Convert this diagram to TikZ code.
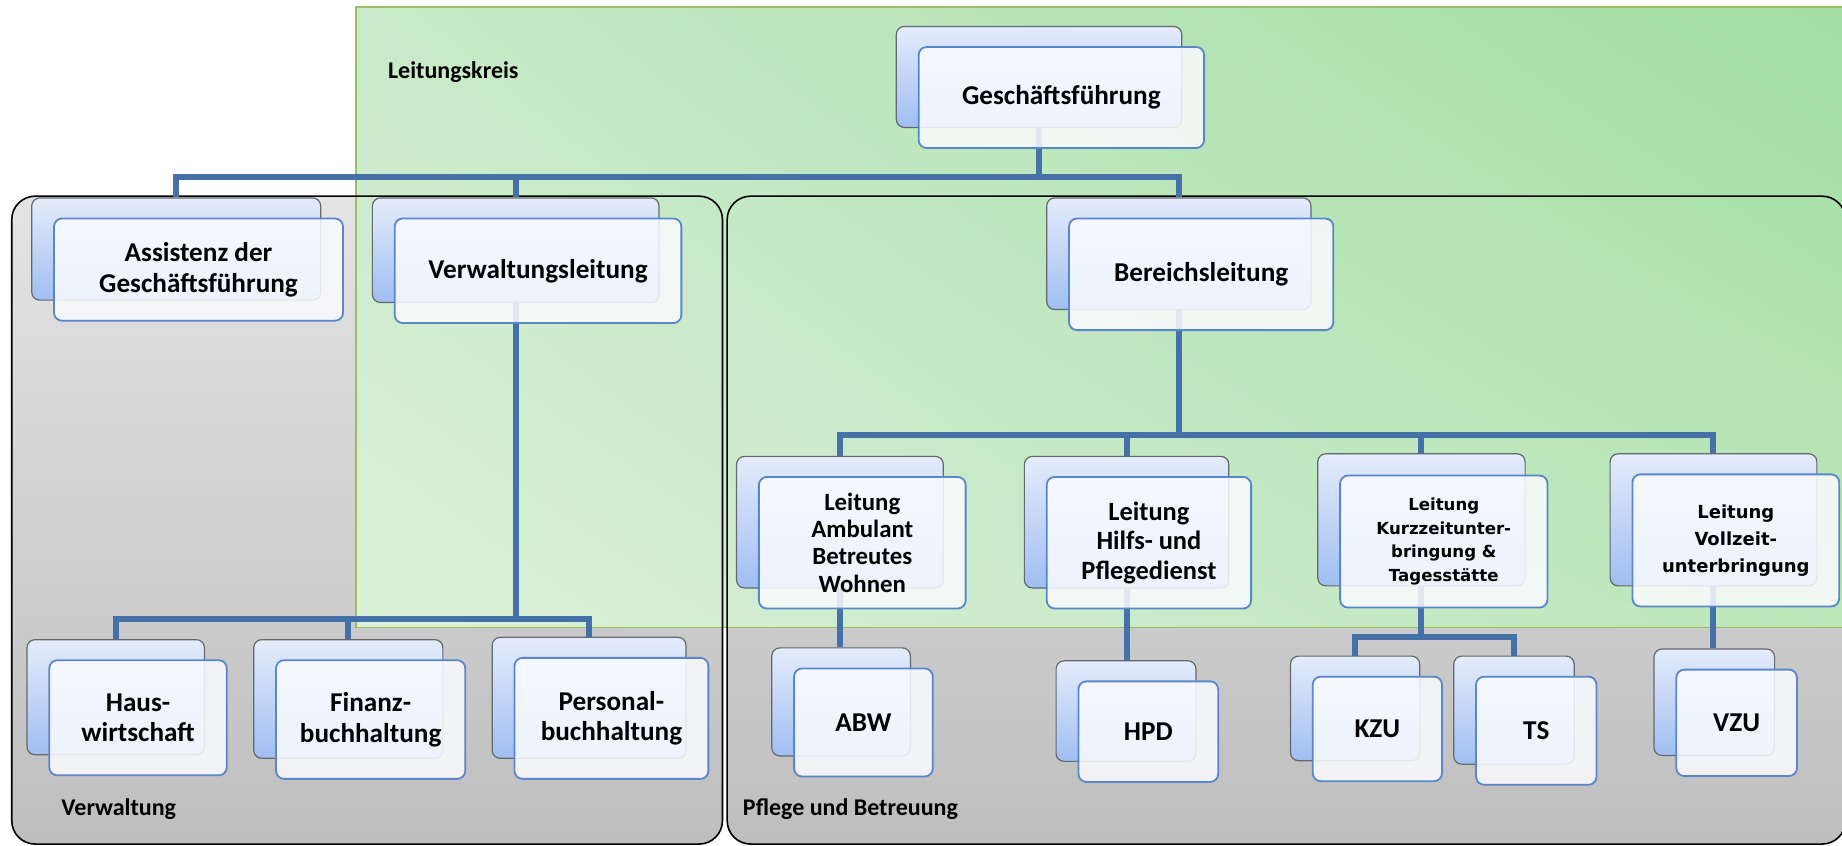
\documentclass[tikz,border=0pt]{standalone}
\usepackage{fontspec}
\usetikzlibrary{shadings}
\setmainfont{Carlito}
\newfontfamily\dvfont{DejaVu Sans}
\newcommand\upx{0.5874pt}
\definecolor{linec}{RGB}{70,112,168}
\definecolor{backtop}{RGB}{228,236,251}
\definecolor{backbot}{RGB}{160,190,242}
\definecolor{backedge}{RGB}{100,104,112}
\definecolor{frontedge}{RGB}{88,135,205}
\definecolor{frontfill}{RGB}{250,251,254}
\definecolor{greytop}{RGB}{228,228,228}
\definecolor{greybot}{RGB}{190,190,190}
\definecolor{gUL}{RGB}{200,234,200}
\definecolor{gUR}{RGB}{162,222,162}
\definecolor{gLL}{RGB}{218,240,218}
\definecolor{gLR}{RGB}{188,230,186}
\definecolor{gedge}{RGB}{155,190,100}
\begin{document}
\begin{tikzpicture}[x=0.5874pt,y=-0.5874pt,
  conn/.style={draw=linec,line width=3pt},
  backbox/.style={draw=backedge,line width=0.6pt,rounded corners=4pt,top color=backtop,bottom color=backbot,inner sep=0pt},
  frontbox/.style={draw=frontedge,line width=0.9pt,rounded corners=4pt,fill=frontfill,fill opacity=0.86,text opacity=1,inner sep=0pt,align=center},
  bigtxt/.style={font=\fontsize{13.6}{15.3}\selectfont\bfseries},
  midtxt/.style={font=\fontsize{12.4}{13.6}\selectfont\bfseries},
  dvtxt/.style={font=\dvfont\fontsize{8.3}{11.9}\selectfont\bfseries},
  dvtxtb/.style={font=\dvfont\fontsize{9}{13.4}\selectfont\bfseries},
  grouplbl/.style={font=\fontsize{12}{14}\selectfont\bfseries,anchor=west,inner sep=0pt},
  greyfill/.style={top color=greytop,bottom color=greybot,rounded corners=11.7pt},
  greyline/.style={draw=black,line width=0.8pt,rounded corners=11.7pt}
]
\useasboundingbox (0,0) rectangle (1568,720);
% grey group boxes
\path[greyfill] (10,167) rectangle (615,718.5);
\path[greyfill] (619,167) rectangle (1571,718.5);
% Leitungskreis
\shade[upper left=gUL,upper right=gUR,lower left=gLL,lower right=gLR] (303,6) rectangle (1575,534);
\draw[gedge,line width=0.7pt] (303,6) rectangle (1575,534);
\draw[greyline] (10,167) rectangle (615,718.5);
\draw[greyline] (619,167) rectangle (1571,718.5);
% group labels
\node[grouplbl] (lk) at (330,61) {Leitungskreis};
\node[grouplbl] (lverw) at (52,689) {Verwaltung};
\node[grouplbl] (lpfl) at (632,689) {Pflege und Betreuung};
% back boxes
\node[backbox,minimum width=243*\upx,minimum height=86*\upx] (gfb) at (884.5,65.5) {};
\node[backbox,minimum width=246*\upx,minimum height=87*\upx] (asb) at (150,212) {};
\node[backbox,minimum width=244*\upx,minimum height=89*\upx] (vlb) at (439,213) {};
\node[backbox,minimum width=225*\upx,minimum height=95*\upx] (blb) at (1003.5,216) {};
\node[backbox,minimum width=151*\upx,minimum height=98*\upx] (hwb) at (98.5,593.5) {};
\node[backbox,minimum width=161*\upx,minimum height=101*\upx] (fbb) at (296.5,595) {};
\node[backbox,minimum width=165*\upx,minimum height=103*\upx] (pbb) at (501.5,594) {};
\node[backbox,minimum width=176*\upx,minimum height=112*\upx] (lab) at (715,444.5) {};
\node[backbox,minimum width=174*\upx,minimum height=112*\upx] (lhb) at (959,444.5) {};
\node[backbox,minimum width=176.5*\upx,minimum height=112.4*\upx] (lkb) at (1210,442.5) {};
\node[backbox,minimum width=176*\upx,minimum height=112.4*\upx] (lvb) at (1458.6,442.5) {};
\node[backbox,minimum width=118*\upx,minimum height=92*\upx] (abwb) at (716,597.5) {};
\node[backbox,minimum width=119*\upx,minimum height=85.6*\upx] (hpdb) at (958.5,605.3) {};
\node[backbox,minimum width=110*\upx,minimum height=89*\upx] (kzub) at (1153.5,603) {};
\node[backbox,minimum width=102.5*\upx,minimum height=92*\upx] (tsb) at (1288.75,604.5) {};
\node[backbox,minimum width=102.7*\upx,minimum height=90.6*\upx] (vzub) at (1459.3,597.8) {};
% connectors
\coordinate (bus1) at (0,151);
\coordinate (bus2) at (0,527);
\coordinate (bus3) at (0,370);
\coordinate (bus4) at (0,542);
\draw[conn] (gfb.south) -- (gfb.south |- bus1);
\draw[conn] (asb.north) -- (asb.north |- bus1) -- (blb.north |- bus1) -- (blb.north);
\draw[conn] (vlb.north) -- (vlb.north |- bus1);
\draw[conn] (vlb.south) -- (vlb.south |- bus2);
\draw[conn] (hwb.north) -- (hwb.north |- bus2) -- (pbb.north |- bus2) -- (pbb.north);
\draw[conn] (fbb.north) -- (fbb.north |- bus2);
\draw[conn] (blb.south) -- (blb.south |- bus3);
\draw[conn] (lab.north) -- (lab.north |- bus3) -- (lvb.north |- bus3) -- (lvb.north);
\draw[conn] (lhb.north) -- (lhb.north |- bus3);
\draw[conn] (lkb.north) -- (lkb.north |- bus3);
\draw[conn] (lab.south) -- (lab.south |- abwb.north);
\draw[conn] (lhb.south) -- (lhb.south |- hpdb.north);
\draw[conn] (lkb.south) -- (lkb.south |- bus4);
\draw[conn] (kzub.north) -- (kzub.north |- bus4) -- (tsb.north |- bus4) -- (tsb.north);
\draw[conn] (lvb.south) -- (lvb.south |- vzub.north);
% front boxes
\node[frontbox,bigtxt,minimum width=243*\upx,minimum height=86*\upx] (gf) at (903.5,83) {Geschäftsführung};
\node[frontbox,bigtxt,minimum width=246*\upx,minimum height=87*\upx] (as) at (169,229.5) {Assistenz der\\Geschäftsführung};
\node[frontbox,bigtxt,minimum width=244*\upx,minimum height=89*\upx] (vl) at (458,230.5) {Verwaltungsleitung};
\node[frontbox,bigtxt,minimum width=225*\upx,minimum height=95*\upx] (bl) at (1022.5,233.5) {Bereichsleitung};
\node[frontbox,bigtxt,minimum width=151*\upx,minimum height=98*\upx] (hw) at (117.5,611) {Haus-\\wirtschaft};
\node[frontbox,bigtxt,minimum width=161*\upx,minimum height=101*\upx] (fb) at (315.5,612.5) {Finanz-\\buchhaltung};
\node[frontbox,bigtxt,minimum width=165*\upx,minimum height=103*\upx] (pb) at (520.5,611.5) {Personal-\\buchhaltung};
\node[frontbox,midtxt,minimum width=176*\upx,minimum height=112*\upx] (la) at (734,462) {Leitung\\Ambulant\\Betreutes\\Wohnen};
\node[frontbox,font=\fontsize{13.2}{14.7}\selectfont\bfseries,minimum width=174*\upx,minimum height=112*\upx] (lh) at (978,462) {Leitung\\Hilfs- und\\Pflegedienst};
\node[frontbox,dvtxt,minimum width=176.5*\upx,minimum height=112.4*\upx] (lkz) at (1229,461) {Leitung\\Kurzzeitunter-\\bringung \&\\Tagesstätte};
\node[frontbox,dvtxtb,minimum width=176*\upx,minimum height=112.4*\upx] (lv) at (1477.6,460) {Leitung\\Vollzeit-\\unterbringung};
\node[frontbox,bigtxt,minimum width=118*\upx,minimum height=92*\upx] (abw) at (735,615) {ABW};
\node[frontbox,bigtxt,minimum width=119*\upx,minimum height=85.6*\upx] (hpd) at (977.5,622.8) {HPD};
\node[frontbox,bigtxt,minimum width=110*\upx,minimum height=89*\upx] (kzu) at (1172.5,620.5) {KZU};
\node[frontbox,bigtxt,minimum width=102.5*\upx,minimum height=92*\upx] (ts) at (1307.75,622) {TS};
\node[frontbox,bigtxt,minimum width=102.7*\upx,minimum height=90.6*\upx] (vzu) at (1478.3,615.3) {VZU};
\end{tikzpicture}
\end{document}
